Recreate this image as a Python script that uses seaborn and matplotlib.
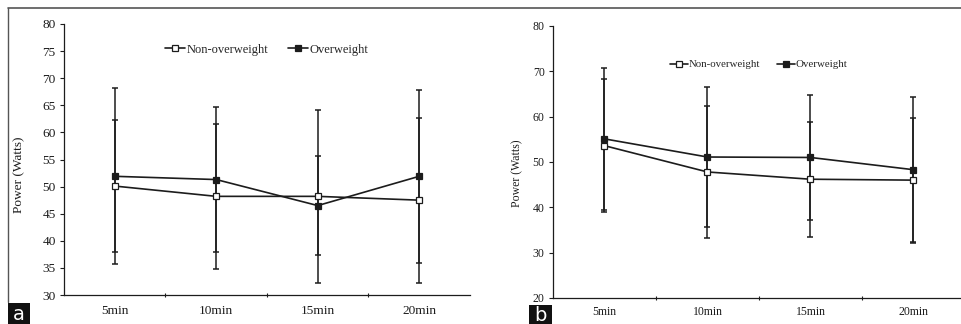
import numpy as np
import pandas as pd
import matplotlib
matplotlib.use('Agg')
import matplotlib.pyplot as plt
from matplotlib.lines import Line2D
from matplotlib.patches import Rectangle
import seaborn as sns

# Data (mean and SD, Watts)
times = ['5min', '10min', '15min', '20min']
groups = ['Non-overweight', 'Overweight']

a_non_mean = [50.1, 48.2, 48.2, 47.5]
a_non_sd = [12.2, 13.4, 16.0, 15.2]
a_ow_mean = [51.9, 51.3, 46.5, 51.9]
a_ow_sd = [16.2, 13.3, 9.2, 16.0]

b_non_mean = [53.6, 47.8, 46.2, 46.0]
b_non_sd = [14.7, 14.6, 12.7, 13.6]
b_ow_mean = [55.1, 51.1, 51.0, 48.3]
b_ow_sd = [15.6, 15.4, 13.7, 16.1]

sns.set_style('ticks')
plt.rcParams['font.family'] = ['Liberation Serif', 'DejaVu Serif']

ink = '#1c1c1c'

fig = plt.figure(figsize=(9.62, 3.24), dpi=100)
ax_a = fig.add_axes([64 / 962, 29 / 324, 406 / 962, 271 / 324])
ax_b = fig.add_axes([553 / 962, 26 / 324, 412 / 962, 272 / 324])


def draw_panel(ax, non_mean, non_sd, ow_mean, ow_sd, ylim, ystep, fs, lfs, leg_y, xpad):
    pos = np.arange(len(times))
    df = pd.DataFrame({
        'pos': np.concatenate([pos, pos]),
        'power': non_mean + ow_mean,
        'group': [groups[0]] * len(times) + [groups[1]] * len(times),
    })
    # error bars first, lines and markers on top
    ax.errorbar(pos, non_mean, yerr=non_sd, fmt='none', ecolor=ink,
                elinewidth=1.1, capsize=2.5, capthick=1.1, zorder=1)
    ax.errorbar(pos, ow_mean, yerr=ow_sd, fmt='none', ecolor=ink,
                elinewidth=1.1, capsize=2.5, capthick=1.1, zorder=1)
    sns.lineplot(data=df[df['group'] == groups[0]], x='pos', y='power', ax=ax,
                 color=ink, linewidth=1.2, marker='s', markersize=4.4,
                 markerfacecolor='white', markeredgecolor=ink, markeredgewidth=0.9,
                 zorder=3, legend=False)
    sns.lineplot(data=df[df['group'] == groups[1]], x='pos', y='power', ax=ax,
                 color=ink, linewidth=1.2, marker='s', markersize=4.4,
                 markerfacecolor=ink, markeredgecolor=ink, markeredgewidth=0.9,
                 zorder=3, legend=False)

    ax.set_xlim(-0.5, len(times) - 0.5)
    ax.set_ylim(*ylim)
    ax.set_yticks(np.arange(ylim[0], ylim[1] + 0.1, ystep))
    ax.set_xticks(pos)
    ax.set_xticklabels(times)
    ax.set_xticks(np.arange(0.5, len(times) - 0.5, 1), minor=True)
    ax.tick_params(axis='x', which='major', length=0, pad=xpad, labelsize=fs, colors=ink)
    ax.tick_params(axis='x', which='minor', length=3.5, width=0.8, direction='inout', color=ink)
    ax.tick_params(axis='y', length=3, width=0.8, pad=3, labelsize=fs, colors=ink)
    ax.set_xlabel('')
    ax.set_ylabel('Power (Watts)', fontsize=fs, color=ink)
    for side in ['top', 'right']:
        ax.spines[side].set_visible(False)
    for side in ['left', 'bottom']:
        ax.spines[side].set_linewidth(0.9)
        ax.spines[side].set_color(ink)
    ax.set_facecolor('white')

    handles = [
        Line2D([], [], color=ink, linewidth=1.2, marker='s', markersize=4.4,
               markerfacecolor='white', markeredgecolor=ink, markeredgewidth=0.9),
        Line2D([], [], color=ink, linewidth=1.2, marker='s', markersize=4.4,
               markerfacecolor=ink, markeredgecolor=ink, markeredgewidth=0.9),
    ]
    ax.legend(handles, groups, loc='center', bbox_to_anchor=(0.5, leg_y), ncol=2,
              frameon=False, fontsize=lfs, handlelength=1.6, handletextpad=0.1,
              columnspacing=1.6)


draw_panel(ax_a, a_non_mean, a_non_sd, a_ow_mean, a_ow_sd, (30, 80), 5,
           9.6, 9.0, 0.905, 7)
ax_a.yaxis.set_label_coords(-0.095, 0.443)

draw_panel(ax_b, b_non_mean, b_non_sd, b_ow_mean, b_ow_sd, (20, 80), 10,
           8.5, 7.8, 0.858, 6)
ax_b.yaxis.set_label_coords(-0.072, 0.46)

# panel frame lines
fig.add_artist(Line2D([8 / 962, 1.0], [1 - 8 / 324, 1 - 8 / 324],
                      transform=fig.transFigure, color='#555555', linewidth=1.2))
fig.add_artist(Line2D([8 / 962, 8 / 962], [1 - 8 / 324, 22 / 324],
                      transform=fig.transFigure, color='#555555', linewidth=1.0))

# panel letters in black boxes
for letter, x0, x1, y1 in [('a', 8, 30, 303), ('b', 529, 552, 305)]:
    fig.add_artist(Rectangle((x0 / 962, 0), (x1 - x0) / 962, (324 - y1) / 324,
                             transform=fig.transFigure, facecolor='#111111',
                             edgecolor='none'))
    fig.text((x0 + x1) / 2 / 962, (324 - y1) / 2 / 324 - 0.004, letter, color='white',
             fontsize=14, ha='center', va='center', family='DejaVu Sans')

fig.savefig('out.png', dpi=100, facecolor='white')
